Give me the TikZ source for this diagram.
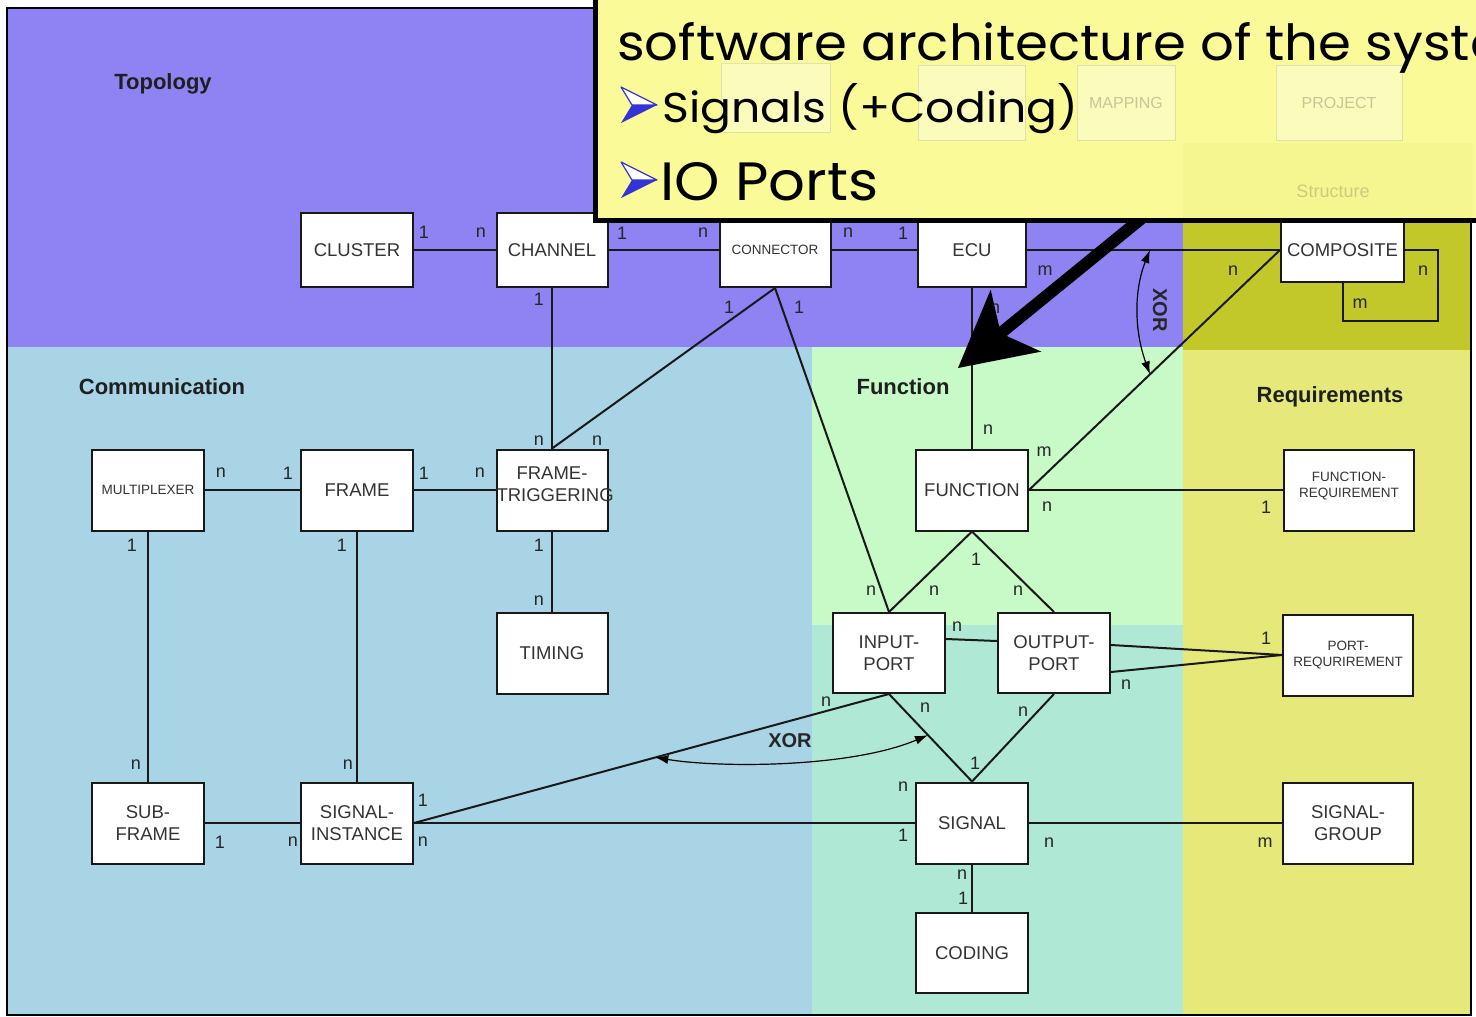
\documentclass[tikz,border=0pt]{standalone}
\usepackage{fontspec}
\setmainfont{Liberation Sans}
\newfontfamily\slidefont{Poppins}
\usetikzlibrary{arrows.meta,calc}

\definecolor{topo}{HTML}{8F83F3}
\definecolor{struct}{HTML}{C3C82A}
\definecolor{comm}{HTML}{A8D4E6}
\definecolor{func}{HTML}{C8FAC8}
\definecolor{sigc}{HTML}{B0E8D6}
\definecolor{req}{HTML}{E6E97A}
\definecolor{slide}{HTML}{FAFA98}
\definecolor{bulletblue}{HTML}{3434D6}

\begin{document}
\begin{tikzpicture}[x=1pt,y=-1pt,
  ent/.style={draw=black!90, line width=2pt, fill=white, inner sep=0pt, align=center,
              text=black!80, font=\fontsize{18.5}{22}\selectfont},
  small/.style={font=\fontsize{13.5}{16}\selectfont},
  card/.style={inner sep=0pt, text=black!85, font=\fontsize{18}{18}\selectfont},
  area/.style={inner sep=0pt, text=black!88, font=\bfseries\fontsize{22}{22}\selectfont},
  xorlbl/.style={inner sep=0pt, text=black!85, font=\bfseries\fontsize{20}{20}\selectfont},
  link/.style={draw=black!90, line width=2pt},
  xorarc/.style={line width=1.2pt, {Latex[length=13pt,width=9pt]}-{Latex[length=13pt,width=9pt]}},
  ghost/.style={draw=black!30, line width=1pt, fill=white, fill opacity=0.35, draw opacity=0.35,
                text opacity=0.3, text=black!70, inner sep=0pt, font=\fontsize{16}{16}\selectfont},
]
\useasboundingbox (0,0) rectangle (1476,1017);
\begin{scope}
\clip (0,0) rectangle (1476,1017);
\fill[white] (0,0) rectangle (1476,1017);

% coloured areas
\fill[topo]   (7,8)     rectangle (1183,347);
\fill[struct] (1183,8)  rectangle (1471,350);
\fill[comm]   (7,347)   rectangle (812,1015);
\fill[func]   (812,347) rectangle (1183,625);
\fill[sigc]   (812,625) rectangle (1183,1015);
\fill[req]    (1183,350) rectangle (1471,1015);
\draw[line width=2pt] (7,8) rectangle (1471,1015);

% area titles
\node[area] (tTopo) at (163,84)  {Topology};
\node[area] (tComm) at (162,387) {Communication};
\node[area] (tFunc) at (903,387) {Function};
\node[area] (tReq)  at (1330,397) {Requirements};

% entities
\node[ent, text width=112pt, minimum height=74pt] (cluster)   at (357,250) {CLUSTER};
\node[ent, text width=111pt, minimum height=74pt] (channel)   at (552,250) {CHANNEL};
\node[ent, small, text width=111pt, minimum height=74pt] (connector) at (775,250) {CONNECTOR};
\node[ent, text width=108pt, minimum height=74pt] (ecu)       at (972,250) {ECU};
\node[ent, text width=123pt, minimum height=64pt] (composite) at (1342.5,250) {COMPOSITE};

\node[ent, small, text width=112pt, minimum height=81pt] (mux)   at (148,490) {MULTIPLEXER};
\node[ent, text width=112pt, minimum height=81pt] (frame)     at (357,490) {FRAME};
\node[ent, text width=111pt, minimum height=81pt] (frametrig) at (552,490) {FRAME-\\TRIGGERING\par\vspace{12pt}};
\node[ent, text width=112pt, minimum height=81pt] (function)  at (972,490) {FUNCTION};
\node[ent, small, text width=130pt, minimum height=81pt] (funcreq) at (1349,490) {FUNCTION-\\REQUIREMENT\par\vspace{8pt}};

\node[ent, text width=111pt, minimum height=81pt] (timing)  at (552,653) {TIMING};
\node[ent, text width=112pt, minimum height=80pt] (input)   at (889,653) {INPUT-\\PORT};
\node[ent, text width=112pt, minimum height=80pt] (output)  at (1054,653) {OUTPUT-\\PORT};
\node[ent, small, text width=130pt, minimum height=81pt] (portreq) at (1348,655) {PORT-\\REQURIREMENT};

\node[ent, text width=112pt, minimum height=81pt] (subframe) at (148,823) {SUB-\\FRAME};
\node[ent, text width=112pt, minimum height=81pt] (siginst)  at (357,823) {SIGNAL-\\INSTANCE};
\node[ent, text width=112pt, minimum height=81pt] (signal)   at (972,823) {SIGNAL};
\node[ent, text width=130pt, minimum height=81pt] (siggroup) at (1348,823) {SIGNAL-\\GROUP};
\node[ent, text width=112pt, minimum height=80pt] (coding)   at (972,953) {CODING};

% relations
\coordinate (loop) at (1438,321);
\draw[link] (cluster) -- (channel);
\draw[link] (channel) -- (connector);
\draw[link] (connector) -- (ecu);
\draw[link] (ecu) -- (composite);
\draw[link] (composite.west) -- (function.east);
\draw[link] (composite.east) -| (loop) -| (composite.south);
\draw[link] (channel) -- (frametrig);
\draw[link] (connector.south) -- (frametrig.north);
\draw[link] (connector.south) -- (input.north);
\draw[link] (ecu) -- (function);
\draw[link] (mux) -- (frame);
\draw[link] (frame) -- (frametrig);
\draw[link] (mux) -- (subframe);
\draw[link] (frame) -- (siginst);
\draw[link] (frametrig) -- (timing);
\draw[link] (function) -- (funcreq);
\draw[link] (function.south) -- (input.north);
\draw[link] (function.south) -- (output.north);
\draw[link] ([yshift=14pt]input.east) -- ([yshift=12pt]output.west);
\draw[link] ([yshift=8pt]output.east) -- (portreq.west);
\draw[link] ([yshift=-19pt]output.east) -- (portreq.west);
\draw[link] (input.south) -- (signal.north);
\draw[link] (output.south) -- (signal.north);
\draw[link] (siginst.east) -- (input.south);
\draw[link] (subframe) -- (siginst);
\draw[link] (siginst) -- (signal);
\draw[link] (signal) -- (siggroup);
\draw[link] (signal) -- (coding);

% cardinalities
\foreach \px/\py/\t [count=\i] in {
  424/232/1, 481/233/n, 622/233/1, 703/233/n, 848/233/n, 903/233/1,
  1045/271/m, 1233/271/n, 1423/271/n, 1360/304/m,
  539/299/1, 729/307/1, 799/307/1, 995/309/n, 988/430/n,
  539/441/n, 597/441/n, 1044/452/m, 1047/507/n, 976/559/1,
  934/591/n, 1018/591/n, 871/591/n, 1266/507/1,
  221/473/n, 288/473/1, 424/473/1, 480/473/n,
  132/545/1, 342/545/1, 539/545/1, 539/601/n,
  957/627/n, 1266/638/1, 1126/685/n,
  826/702/n, 925/708/n, 1023/712/n, 975/763/1,
  903/787/n, 903/835/1, 136/765/n, 348/765/n,
  220/842/1, 293/842/n, 423/800/1, 423/842/n,
  1049/843/n, 1265/843/m, 962/875/n, 963/898/1}
  \node[card] (card\i) at (\px,\py) {\t};

% exclusive-or constraints
\coordinate (xorTa) at ($(ecu.east)!0.486!(composite.west)$);
\coordinate (xorTb) at ($(composite.west)!0.518!(function.east)$);
\draw[xorarc] (xorTa) .. controls (1134,290) and (1134,330) .. (xorTb);
\node[xorlbl, rotate=-90] (xorTop) at (1160,310) {XOR};

\coordinate (xorBa) at ($(siginst.east)!0.508!(input.south)$);
\coordinate (xorBb) at ($(input.south)!0.47!(signal.north)$);
\draw[xorarc] (xorBa) .. controls (720,768) and (850,768) .. (xorBb);
\node[xorlbl] (xorBot) at (790,741) {XOR};

% call-out arrow
\fill[black] (958,368) -- (990.7,289.6) -- (999.2,326.7) -- (1141.8,210.4)
  -- (1149.4,219.7) -- (1006.7,336.0) -- (1041.3,351.6) -- cycle;

% slide text box
\draw[line width=5pt, fill=slide] (595.5,-10) rectangle (1490,220.5);
\fill[struct, opacity=0.07] (1183,143) rectangle (1473,218);
\node[ghost, minimum width=109pt, minimum height=69pt] (gA) at (775.5,97.5) {};
\node[ghost, minimum width=107pt, minimum height=75pt] (gB) at (971.5,102.5) {};
\node[ghost, minimum width=98pt, minimum height=75pt] (gMap) at (1126,102.5) {MAPPING};
\node[ghost, minimum width=126pt, minimum height=75pt] (gProj) at (1339,102.5) {PROJECT};
\node[inner sep=0pt, text=black!70, opacity=0.25, font=\fontsize{18}{18}\selectfont] (gStruct) at (1333,191) {Structure};

\node[anchor=base west, inner sep=0pt] (title) at (617,60)
  {\slidefont\resizebox{940pt}{38pt}{software architecture of the system}};
\node[anchor=base west, inner sep=0pt] (item1) at (662,122)
  {\slidefont\resizebox{416pt}{39pt}{Signals (+Coding)}};
\node[anchor=base west, inner sep=0pt] (item2) at (660,200)
  {\slidefont\resizebox{218pt}{38pt}{IO Ports}};

\foreach \by in {87,162}{
  \begin{scope}[shift={(621,\by)}]
    \filldraw[draw=bulletblue, fill=white, line width=1.2pt, line join=round] (0,0) -- (36,18) -- (11,18) -- cycle;
    \fill[bulletblue] (0,36) -- (36,18) -- (11,18) -- cycle;
  \end{scope}
}
\end{scope}
\end{tikzpicture}
\end{document}
